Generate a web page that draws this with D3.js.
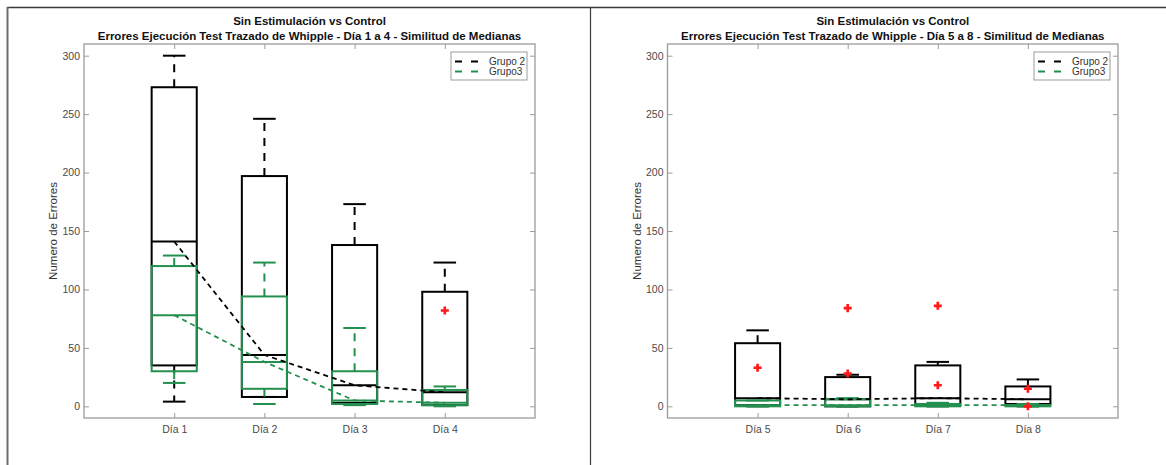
<!DOCTYPE html>
<html>
<head>
<meta charset="utf-8">
<script src="https://cdn.jsdelivr.net/npm/d3@7"></script>
<style>
  html, body { margin: 0; padding: 0; background: #fff; }
  svg { display: block; font-family: "Liberation Sans", Arial, Helvetica, sans-serif; }
</style>
</head>
<body>
<svg id="fig" width="1166" height="465"></svg>
<script>
// Days shown in each panel
const diasA = ["Día 1", "Día 2", "Día 3", "Día 4"];
const diasB = ["Día 5", "Día 6", "Día 7", "Día 8"];
const yTicks = [0, 50, 100, 150, 200, 250, 300];
const seriesNames = ["Grupo 2", "Grupo3"];
const titleMain = "Sin Estimulación vs Control";
const subtitleA = "Errores Ejecución Test Trazado de Whipple - Día 1 a 4 - Similitud de Medianas";
const subtitleB = "Errores Ejecución Test Trazado de Whipple - Día 5 a 8 - Similitud de Medianas";
const yLabel = "Numero de Errores";

// Grupo 2, days 1-4: whisker ends, quartiles and medians
const g2LowA = [4, 8, 2, 1];
const g2Q1A  = [35, 8, 3, 1];
const g2MedA = [141, 44, 18, 12];
const g2Q3A  = [273, 197, 138, 98];
const g2UpA  = [300, 246, 173, 123];

// Grupo3, days 1-4
const g3LowA = [20, 2, 1, 0];
const g3Q1A  = [30, 15, 2, 1];
const g3MedA = [78, 38, 5, 3];
const g3Q3A  = [120, 94, 30, 14];
const g3UpA  = [129, 123, 67, 17];

// Outliers, days 1-4 (one list per day)
const outA = [[], [], [], [82]];

// Grupo 2, days 5-8
const g2LowB = [0, 0, 0, 0];
const g2Q1B  = [1, 0, 1, 2];
const g2MedB = [7, 6, 7, 6];
const g2Q3B  = [54, 25, 35, 17];
const g2UpB  = [65, 27, 38, 23];

// Grupo3, days 5-8
const g3LowB = [0, 0, 0, 0];
const g3Q1B  = [0, 0, 0, 0];
const g3MedB = [1, 1, 1, 1];
const g3Q3B  = [5, 6, 2, 1];
const g3UpB  = [5, 7, 3, 2];

// Outliers, days 5-8
const outB = [[33], [84, 28], [86, 18], [15, 0]];

const colors = ["#000000", "#23904f"];
const axisColor = "#9b9b9b";
const labelColor = "#4a4a4a";

const svg = d3.select("#fig");

// Page frame around the two figures
svg.append("line").attr("x1", 7).attr("x2", 1166).attr("y1", 7.5).attr("y2", 7.5)
  .attr("stroke", "#3a3a3a").attr("stroke-width", 1.5);
svg.append("line").attr("x1", 7.5).attr("x2", 7.5).attr("y1", 7).attr("y2", 465)
  .attr("stroke", "#6e6e6e").attr("stroke-width", 2);
svg.append("line").attr("x1", 590.5).attr("x2", 590.5).attr("y1", 7).attr("y2", 465)
  .attr("stroke", "#3a3a3a").attr("stroke-width", 1.2);

function stats(dias, low, q1, med, q3, up) {
  return dias.map((d, i) => ({ cat: d, lw: low[i], q1: q1[i], med: med[i], q3: q3[i], uw: up[i] }));
}

function drawPanel(p) {
  const top = 44, bottom = 418;
  const x = d3.scalePoint().domain(p.dias).range([p.left, p.right]).padding(1);
  const y = d3.scaleLinear().domain([-10, 310]).range([bottom, top]);
  const bw = x.step() * 0.5;
  const capW = bw * 0.5;
  const g = svg.append("g");

  // Axes: ticks point inward on all four sides
  const styleAxis = sel => {
    sel.selectAll(".tick line").attr("stroke", axisColor).attr("stroke-width", 1);
    sel.selectAll(".tick text").attr("fill", labelColor).style("font-size", "10.5px")
      .style("font-family", "'Liberation Sans', Arial, sans-serif");
  };
  g.append("g").attr("transform", `translate(${p.left},0)`)
    .call(d3.axisLeft(y).tickValues(yTicks).tickSize(-5).tickSizeOuter(0).tickPadding(4))
    .call(styleAxis);
  g.append("g").attr("transform", `translate(${p.right},0)`)
    .call(d3.axisRight(y).tickValues(yTicks).tickSize(-5).tickSizeOuter(0).tickFormat(""))
    .call(styleAxis);
  g.append("g").attr("transform", `translate(0,${bottom})`)
    .call(d3.axisBottom(x).tickSize(-5).tickSizeOuter(0).tickPadding(8))
    .call(styleAxis);
  g.append("g").attr("transform", `translate(0,${top})`)
    .call(d3.axisTop(x).tickSize(-5).tickSizeOuter(0).tickFormat(""))
    .call(styleAxis);
  g.selectAll(".domain").remove();
  // plain rectangle for the axes box
  g.append("rect").attr("x", p.left).attr("y", top)
    .attr("width", p.right - p.left).attr("height", bottom - top)
    .attr("fill", "none").attr("stroke", axisColor).attr("stroke-width", 1.3);

  // Titles
  const cx = (p.left + p.right) / 2;
  g.append("text").attr("x", cx).attr("y", 24.5).attr("text-anchor", "middle")
    .attr("font-weight", "bold").attr("font-size", 11.5).attr("fill", "#111").text(titleMain);
  g.append("text").attr("x", cx).attr("y", 39.5).attr("text-anchor", "middle")
    .attr("font-weight", "bold").attr("font-size", 11.5).attr("fill", "#111").text(p.subtitle);

  // Y label
  g.append("text")
    .attr("transform", `translate(${p.left - 27},${(top + bottom) / 2}) rotate(-90)`)
    .attr("text-anchor", "middle").attr("font-size", 11.5).attr("fill", "#333").text(yLabel);

  // Boxplots: Grupo 2 first, Grupo3 on top
  p.groups.forEach((data, gi) => {
    const col = colors[gi];
    const bg = g.append("g").attr("stroke", col).attr("fill", "none");
    data.forEach(d => {
      const xc = x(d.cat);
      if (d.uw > d.q3) {
        bg.append("line").attr("x1", xc).attr("x2", xc).attr("y1", y(d.q3)).attr("y2", y(d.uw))
          .attr("stroke-width", 2).attr("stroke-dasharray", "8,7");
      }
      if (d.lw < d.q1) {
        bg.append("line").attr("x1", xc).attr("x2", xc).attr("y1", y(d.q1)).attr("y2", y(d.lw))
          .attr("stroke-width", 2).attr("stroke-dasharray", "8,7");
      }
      bg.append("line").attr("x1", xc - capW / 2).attr("x2", xc + capW / 2)
        .attr("y1", y(d.uw)).attr("y2", y(d.uw)).attr("stroke-width", 2);
      bg.append("line").attr("x1", xc - capW / 2).attr("x2", xc + capW / 2)
        .attr("y1", y(d.lw)).attr("y2", y(d.lw)).attr("stroke-width", 2);
      bg.append("rect").attr("x", xc - bw / 2).attr("y", y(d.q3))
        .attr("width", bw).attr("height", Math.max(0, y(d.q1) - y(d.q3)))
        .attr("stroke-width", 2);
      bg.append("line").attr("x1", xc - bw / 2).attr("x2", xc + bw / 2)
        .attr("y1", y(d.med)).attr("y2", y(d.med)).attr("stroke-width", 2);
    });
  });

  // Dashed lines joining the medians
  p.groups.forEach((data, gi) => {
    g.append("path").datum(data)
      .attr("d", d3.line().x(d => x(d.cat)).y(d => y(d.med)))
      .attr("fill", "none").attr("stroke", colors[gi])
      .attr("stroke-width", 1.8).attr("stroke-dasharray", "5,4");
  });

  // Outliers
  const cross = d3.symbol(d3.symbolCross, 36);
  p.outliers.forEach((vals, i) => {
    vals.forEach(v => {
      g.append("path").attr("d", cross)
        .attr("transform", `translate(${x(p.dias[i])},${y(v)})`)
        .attr("fill", "#ff1a1a");
    });
  });

  // Legend
  const lw = 76, lh = 28;
  const lx = p.right - 8 - lw, ly = top + 8;
  const leg = g.append("g").attr("transform", `translate(${lx},${ly})`);
  leg.append("rect").attr("width", lw).attr("height", lh)
    .attr("fill", "#fff").attr("stroke", axisColor).attr("stroke-width", 1);
  seriesNames.forEach((name, i) => {
    const yy = 9.5 + i * 10;
    leg.append("line").attr("x1", 4).attr("x2", 27).attr("y1", yy).attr("y2", yy)
      .attr("stroke", colors[i]).attr("stroke-width", 2).attr("stroke-dasharray", "7,9");
    leg.append("text").attr("x", 38).attr("y", yy + 3.4).attr("font-size", 10)
      .attr("fill", "#333").text(name);
  });
}

drawPanel({
  dias: diasA, left: 84, right: 535, subtitle: subtitleA,
  groups: [stats(diasA, g2LowA, g2Q1A, g2MedA, g2Q3A, g2UpA),
           stats(diasA, g3LowA, g3Q1A, g3MedA, g3Q3A, g3UpA)],
  outliers: outA
});
drawPanel({
  dias: diasB, left: 667.5, right: 1118, subtitle: subtitleB,
  groups: [stats(diasB, g2LowB, g2Q1B, g2MedB, g2Q3B, g2UpB),
           stats(diasB, g3LowB, g3Q1B, g3MedB, g3Q3B, g3UpB)],
  outliers: outB
});
</script>
</body>
</html>
